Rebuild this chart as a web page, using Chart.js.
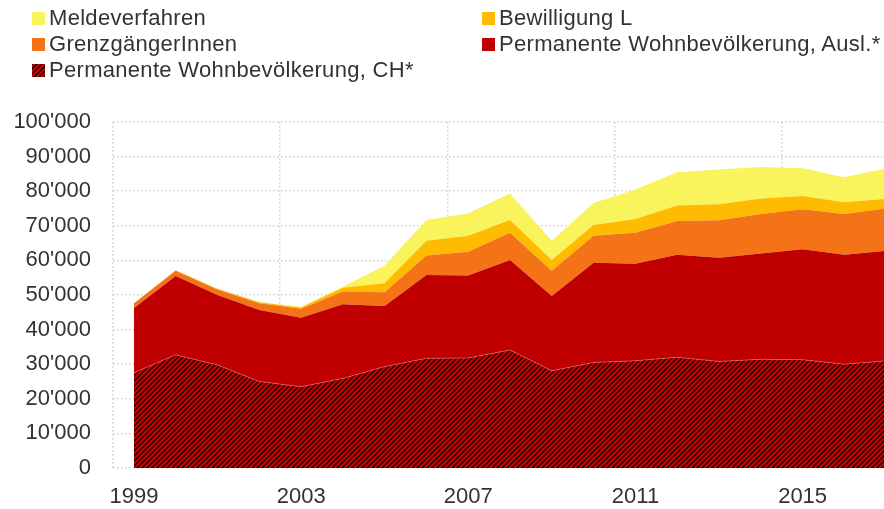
<!DOCTYPE html>
<html>
<head>
<meta charset="utf-8">
<script src="https://cdn.jsdelivr.net/npm/chart.js@4/dist/chart.umd.min.js"></script>
<style>
  html, body { margin: 0; padding: 0; background: #fff; }
  #wrap { position: relative; width: 884px; height: 509px; }
  #legend {
    position: absolute; left: 32px; top: 5px;
    display: grid; grid-template-columns: 450px auto;
    font-family: "Liberation Sans", Arial, sans-serif; font-size: 22px; letter-spacing: 0.3px; color: #333;
  }
  .item { display: flex; align-items: center; height: 26px; white-space: nowrap; }
  .box { width: 13px; height: 13px; margin-right: 4px; flex: none; }
</style>
</head>
<body>
<div id="wrap">
  <canvas id="chart"></canvas>
  <div id="legend"></div>
</div>
<script>
// Jahre und Werte (gestapelt, unten nach oben)
const years = [1999, 2000, 2001, 2002, 2003, 2004, 2005, 2006, 2007, 2008, 2009, 2010, 2011, 2012, 2013, 2014, 2015, 2016, 2017];
const wohnCH   = [27500, 32700, 29800, 25000, 23500, 25900, 29300, 31700, 31800, 34100, 28100, 30500, 31000, 32000, 30800, 31400, 31300, 30000, 31000];
const wohnAusl = [18700, 22800, 20200, 20700, 19900, 21400, 17500, 24100, 23800, 26000, 21600, 28800, 28000, 29600, 30000, 30600, 31900, 31600, 31800];
const grenz    = [1400, 1500, 1600, 1900, 2600, 3700, 4000, 5600, 6900, 7900, 7300, 7800, 9000, 9800, 10800, 11400, 11600, 11800, 12200];
const bewL     = [0, 150, 200, 300, 400, 1100, 2600, 4300, 4600, 3700, 3100, 3100, 4000, 4500, 4600, 4500, 3800, 3400, 2800];
const melde    = [0, 0, 0, 100, 200, 300, 5100, 6000, 6500, 7600, 5600, 6400, 8500, 9600, 10100, 9100, 8000, 7200, 8800];
const xTickLabels = ['1999', '2003', '2007', '2011', '2015'];

const FONT = '"Liberation Sans", Arial, sans-serif';

// Schraffur fuer CH
function makeHatch() {
    const c = document.createElement('canvas');
    c.width = 5; c.height = 5;
    const g = c.getContext('2d');
    g.fillStyle = '#c40000';
    g.fillRect(0, 0, 5, 5);
    g.strokeStyle = '#000';
    g.lineWidth = 1.2;
    g.beginPath();
    g.moveTo(-1, 6); g.lineTo(6, -1);
    g.moveTo(-1, 1); g.lineTo(1, -1);
    g.moveTo(4, 6); g.lineTo(6, 4);
    g.stroke();
    return c;
}
const hatchCanvas = makeHatch();
const hatch = document.getElementById('chart').getContext('2d').createPattern(hatchCanvas, 'repeat');

const series = [
    { label: 'Permanente Wohnbevölkerung, CH*', data: wohnCH, color: hatch, legendBg: 'url(' + hatchCanvas.toDataURL() + ')' },
    { label: 'Permanente Wohnbevölkerung, Ausl.*', data: wohnAusl, color: '#c00000' },
    { label: 'GrenzgängerInnen', data: grenz, color: '#f47317' },
    { label: 'Bewilligung L', data: bewL, color: '#ffbb00' },
    { label: 'Meldeverfahren', data: melde, color: '#f9f35c' }
];

// Legende: zwei Spalten, oberste Schicht zuerst
const legendOrder = [4, 3, 2, 1, 0];
const legendEl = document.getElementById('legend');
legendOrder.forEach(i => {
    const s = series[i];
    const bg = s.legendBg ? s.legendBg : s.color;
    legendEl.innerHTML += `<div class="item"><span class="box" style="background:${bg}"></span>${s.label}</div>`;
});

const fmt = v => String(v).replace(/\B(?=(\d{3})+(?!\d))/g, "'");

new Chart(document.getElementById('chart'), {
    type: 'line',
    data: {
        labels: years,
        datasets: series.map((s, i) => ({
            label: s.label,
            data: s.data,
            backgroundColor: s.color,
            borderColor: i === 0 ? 'rgba(230,110,110,0.6)' : 'transparent',
            borderWidth: i === 0 ? 1 : 0,
            pointRadius: 0,
            tension: 0,
            fill: i === 0 ? 'origin' : '-1'
        }))
    },
    options: {
        responsive: true,
        maintainAspectRatio: false,
        animation: false,
        layout: { padding: { top: 122, right: 0, left: 0, bottom: 0 } },
        plugins: { legend: { display: false }, tooltip: { enabled: false } },
        scales: {
            x: {
                type: 'linear',
                min: 1998.5,
                max: 2016.95,
                afterBuildTicks: (scale) => {
                    scale.ticks = xTickLabels.map(t => ({ value: Number(t) - 0.5 }));
                },
                afterFit: (scale) => { scale.height = 41; },
                ticks: {
                    callback: (v) => String(v + 0.5),
                    labelOffset: 21,
                    padding: 16,
                    maxRotation: 0,
                    color: '#333',
                    font: { family: FONT, size: 22 }
                },
                grid: { color: '#cfcfcf', lineWidth: 1.5, drawTicks: false },
                border: { display: false, dash: [1.5, 2.5] }
            },
            y: {
                stacked: true,
                min: 0,
                max: 100000,
                afterFit: (scale) => { scale.width = 113; },
                ticks: {
                    stepSize: 10000,
                    padding: 22,
                    callback: (v) => fmt(v),
                    color: '#333',
                    font: { family: FONT, size: 22 }
                },
                grid: { color: '#cfcfcf', lineWidth: 1.5, drawTicks: false },
                border: { display: false, dash: [1.5, 2.5] }
            }
        }
    }
});
</script>
</body>
</html>
